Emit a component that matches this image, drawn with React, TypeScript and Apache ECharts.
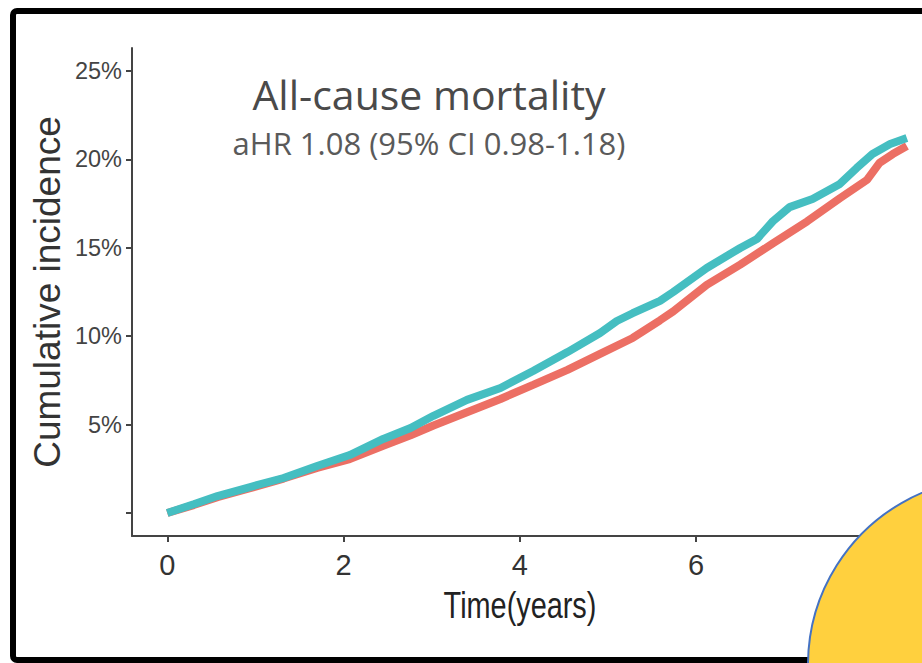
import React, { useEffect, useRef } from "react";
import * as echarts from "echarts";

// Time in years, cumulative incidence in %
const tealTime = [0, 0.3, 0.57, 0.94, 1.32, 1.7, 2.07, 2.45, 2.76, 3.02, 3.4, 3.78, 4.15, 4.54, 4.91, 5.1, 5.28, 5.59, 5.74, 6.12, 6.5, 6.69, 6.87, 7.06, 7.32, 7.63, 7.82, 8.0, 8.2, 8.39];
const tealValues = [0, 0.5, 0.96, 1.47, 1.98, 2.66, 3.28, 4.19, 4.81, 5.5, 6.4, 7.07, 8.03, 9.1, 10.18, 10.86, 11.3, 12.0, 12.5, 13.86, 14.99, 15.5, 16.5, 17.3, 17.76, 18.61, 19.51, 20.31, 20.87, 21.21];

const redTime = [0, 0.3, 0.57, 0.94, 1.32, 1.7, 2.07, 2.45, 2.76, 3.02, 3.4, 3.78, 4.15, 4.54, 4.91, 5.28, 5.59, 5.74, 6.12, 6.5, 6.87, 7.26, 7.63, 7.94, 8.08, 8.23, 8.39];
const redValues = [0, 0.45, 0.9, 1.4, 1.95, 2.55, 3.05, 3.8, 4.4, 4.95, 5.7, 6.45, 7.25, 8.1, 9.0, 9.9, 10.9, 11.4, 12.9, 14.05, 15.25, 16.5, 17.8, 18.85, 19.8, 20.3, 20.76];

const xTicks = [0, 2, 4, 6, 8];
const yTicks = [0, 5, 10, 15, 20, 25];
const yLabels = [5, 10, 15, 20, 25];

const titleText = "All-cause mortality";
const subtitleText = "aHR 1.08 (95% CI 0.98-1.18)";
const xName = "Time(years)";
const yName = "Cumulative incidence";

const sans = "'Liberation Sans', Arial, sans-serif";

export default function App() {
  const ref = useRef<HTMLDivElement>(null);
  useEffect(() => {
    if (!ref.current) return;
    const chart = echarts.init(ref.current, undefined, { renderer: "svg" });
    const teal = tealTime.map((t, i) => [t, tealValues[i]]);
    const red = redTime.map((t, i) => [t, redValues[i]]);
    chart.setOption({
      animation: false,
      backgroundColor: "#ffffff",
      title: {
        text: titleText,
        subtext: subtitleText,
        left: 424,
        textAlign: "center",
        top: 68,
        itemGap: 13,
        textStyle: { fontFamily: "'Open Sans', Lato, sans-serif", fontSize: 41, fontWeight: "normal", color: "#4a4a4a" },
        subtextStyle: { fontFamily: "'Open Sans', Lato, sans-serif", fontSize: 31, color: "#5a5a5a" },
      },
      grid: { left: 132, right: -21, top: 48, bottom: 127, containLabel: false, outerBoundsMode: "none" },
      xAxis: {
        type: "value",
        min: -0.4,
        max: 8.8,
        axisLine: { show: true, onZero: false, lineStyle: { color: "#444", width: 2 } },
        axisTick: { show: true, customValues: xTicks, length: 6, lineStyle: { color: "#444", width: 2 } },
        axisLabel: { customValues: xTicks, fontFamily: sans, fontSize: 29, color: "#333", margin: 14 },
        splitLine: { show: false },
      },
      yAxis: {
        type: "value",
        min: -1.3,
        max: 26.3,
        name: yName,
        nameLocation: "middle",
        nameGap: 66,
        nameMoveOverlap: false,
        nameTextStyle: { fontFamily: sans, fontSize: 37, color: "#333" },
        axisLine: { show: true, onZero: false, lineStyle: { color: "#444", width: 2 } },
        axisTick: { show: true, customValues: yTicks, length: 6, lineStyle: { color: "#444", width: 2 } },
        axisLabel: {
          customValues: yLabels,
          formatter: (v: number) => `${v}%`,
          fontFamily: sans,
          fontSize: 23.5,
          color: "#444",
          margin: 10,
        },
        splitLine: { show: false },
      },
      series: [
        {
          name: "red",
          type: "line",
          data: red,
          showSymbol: false,
          lineStyle: { color: "#EC6F64", width: 8 },
          z: 2,
        },
        {
          name: "teal",
          type: "line",
          data: teal,
          showSymbol: false,
          lineStyle: { color: "#45BEC1", width: 8 },
          z: 3,
        },
      ],
      graphic: {
        elements: [
          {
            type: "text",
            z: 40,
            x: 520,
            y: 605,
            scaleX: 0.78,
            style: {
              text: xName,
              fontFamily: sans,
              fontSize: 37,
              fill: "#222",
              textAlign: "center",
              textVerticalAlign: "middle",
            },
            silent: true,
          },
          {
            type: "rect",
            z: 50,
            shape: { x: 13, y: 11, width: 1000, height: 649, r: 4 },
            style: { fill: "none", stroke: "#000", lineWidth: 6 },
            silent: true,
          },
          {
            type: "circle",
            z: 100,
            shape: { cx: 995, cy: 665, r: 187 },
            style: { fill: "#FFD03E", stroke: "#4472C4", lineWidth: 2 },
            silent: true,
          },
        ],
      },
    });
    return () => chart.dispose();
  }, []);
  return (
    <div
      ref={ref}
      style={{ position: "fixed", left: 0, top: 0, width: 922, height: 663, background: "#fff" }}
    />
  );
}
